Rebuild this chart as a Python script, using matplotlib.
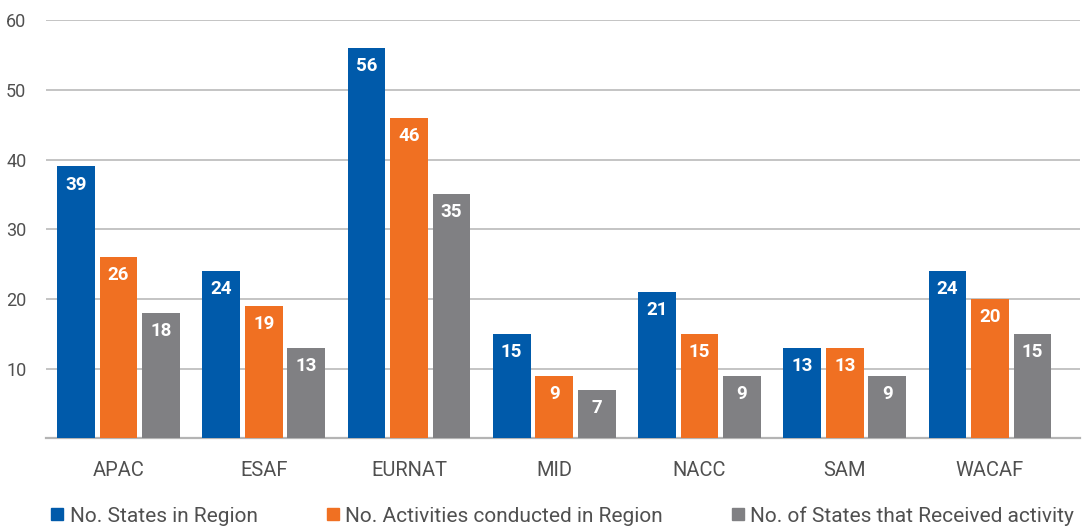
import numpy as np
import matplotlib.pyplot as plt
from matplotlib.lines import Line2D

regions = ['APAC', 'ESAF', 'EURNAT', 'MID', 'NACC', 'SAM', 'WACAF']
states = [39, 24, 56, 15, 21, 13, 24]
activities = [26, 19, 46, 9, 15, 13, 20]
received = [18, 13, 35, 7, 9, 9, 15]
series_names = ['No. States in Region', 'No. Activities conducted in Region',
                'No. of States that Received activity']
colors = ['#005aaa', '#f07022', '#808083']

plt.rcParams['font.family'] = ['Roboto', 'DejaVu Sans']

fig, ax = plt.subplots(figsize=(10.92, 5.27), dpi=100)
fig.subplots_adjust(left=0.042, right=0.989, top=0.962, bottom=0.168)

x = np.arange(len(regions))
w = 0.26
step = 0.293
for i, (vals, c) in enumerate(zip([states, activities, received], colors)):
    pos = x + (i - 1) * step
    ax.bar(pos, vals, width=w, color=c, zorder=3)
    for p, v in zip(pos, vals):
        ax.text(p, v - 1.3, str(v), ha='center', va='top', color='white',
                fontsize=13.5, fontweight='bold', zorder=4)

ax.set_xlim(-0.5, 6.62)
ax.set_ylim(0, 60)
ax.set_yticks([10, 20, 30, 40, 50, 60])
ax.set_xticks(x)
ax.set_xticklabels(regions)
ax.yaxis.grid(True, color='#b4b4b4', linewidth=1.1, zorder=0)
for s in ['top', 'right', 'left']:
    ax.spines[s].set_visible(False)
ax.spines['bottom'].set_color('#b4b4b4')
ax.spines['bottom'].set_linewidth(1.6)
ax.tick_params(axis='both', length=0, colors='#505050')
ax.tick_params(axis='x', labelsize=14.5, pad=16)
ax.tick_params(axis='y', labelsize=13, pad=14)

handles = [Line2D([], [], marker='s', linestyle='none', markersize=9,
                  markerfacecolor=c, markeredgecolor=c) for c in colors]
leg = ax.legend(handles, series_names, loc='upper left', bbox_to_anchor=(-0.003, -0.142),
                ncol=3, frameon=False, fontsize=15, handlelength=0.6,
                handletextpad=0.3, columnspacing=3.3, borderaxespad=0)
for t in leg.get_texts():
    t.set_color('#505050')

fig.savefig('out.png', dpi=100)
